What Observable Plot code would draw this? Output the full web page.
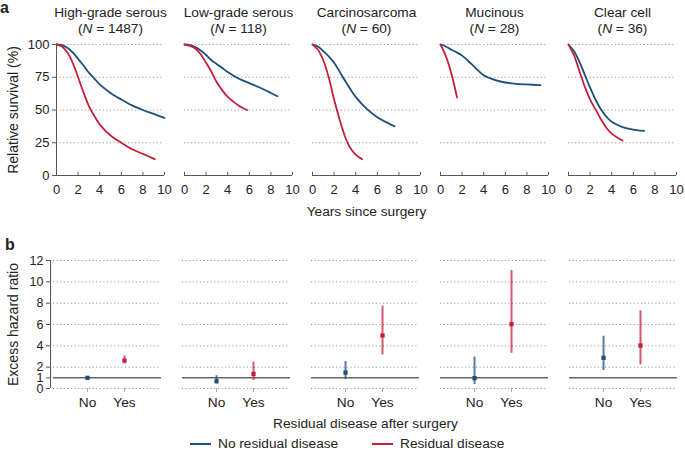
<!DOCTYPE html>
<html>
<head>
<meta charset="utf-8">
<script src="https://cdn.jsdelivr.net/npm/d3@7"></script>
<script src="https://cdn.jsdelivr.net/npm/@observablehq/plot@0.6"></script>
<style>
  html, body { margin: 0; padding: 0; background: white; }
  #wrap { position: relative; width: 685px; height: 451px; font-family: "Liberation Sans", Arial, sans-serif; color: #222; }
  .abs { position: absolute; }
  .panel-label { position: absolute; font-weight: bold; font-size: 16px; line-height: 16px; }
  .legend { position: absolute; top: 438px; left: 0; width: 685px; font-size: 13.7px; line-height: 12px; }
  .legend .item { position: absolute; top: 0; height: 12px; display: flex; align-items: center; white-space: nowrap; }
  .legend .sw { display: inline-block; width: 21px; height: 2px; margin-right: 7px; }
</style>
</head>
<body>
<div id="wrap">
  <div class="abs" id="top" style="left:0;top:0"></div>
  <div class="abs" id="bottom" style="left:0;top:225px"></div>
  <div class="panel-label" style="left:0;top:0px">a</div>
  <div class="panel-label" style="left:5px;top:237px">b</div>
  <div class="legend" id="legend"></div>
</div>
<script>
// ---------- data ----------
const categories = ["High-grade serous", "Low-grade serous", "Carcinosarcoma", "Mucinous", "Clear cell"];
const counts = [1487, 118, 60, 28, 36];
const groups = ["No residual disease", "Residual disease"];
const residLabels = ["No", "Yes"];
const colors = ["#1d4f7c", "#c41f3c"];

// survival curves: [years, relative survival %]
const hgsNo  = [[0,100],[0.5,99.5],[1,97.5],[1.5,94],[2,89],[2.5,84],[3,78.5],[3.5,74],[4,69.5],[5,63],[6,58],[7,53.5],[8,50],[9,47],[10,44]];
const hgsYes = [[0,100],[0.5,98.5],[1,94],[1.5,86],[2,75],[2.5,63.5],[3,53],[3.5,45.5],[4,39],[5,30.5],[6,25],[7,20],[8,16.5],[9.1,12.5]];
const lgsNo  = [[0,100],[0.5,99.5],[1,98],[1.5,95.5],[2,92],[2.5,88],[3,85],[3.5,82],[4,79],[5,74],[6,70.5],[7,67],[8,63],[8.6,60.5]];
const lgsYes = [[0,100],[0.5,99],[1,97],[1.5,92.5],[2,86],[2.5,79],[3,71],[3.5,65],[4,60],[4.5,56.5],[5,53.5],[5.8,50]];
const csNo   = [[0,100],[0.5,98.5],[1,95],[1.5,91],[2,86],[2.5,79.5],[3,72.5],[3.5,66],[4,60],[5,51],[6,44.5],[7,40],[7.6,37.6]];
const csYes  = [[0,100],[0.5,96],[1,88],[1.5,75],[2,58],[2.5,43],[3,30],[3.5,21],[4,16],[4.6,12.4]];
const mucNo  = [[0,100],[0.5,98.5],[1,96],[1.5,94],[2,91.5],[2.5,88],[3,84],[3.5,80],[4,76.5],[5,73],[6,71],[7,70],[8,69.5],[9.25,69]];
const mucYes = [[0,100],[0.5,91],[1,78],[1.53,59.5]];
const ccNo   = [[0,100],[0.5,95],[1,87],[1.5,77],[2,67],[2.5,58],[3,50.5],[3.5,45],[4,41],[5,37],[6,35],[7,34]];
const ccYes  = [[0,100],[0.5,92],[1,80],[1.5,68],[2,58],[2.5,50.5],[3,43],[3.5,36.5],[4,32],[4.5,29],[5,26.7]];
const curvesNo  = [hgsNo, lgsNo, csNo, mucNo, ccNo];
const curvesYes = [hgsYes, lgsYes, csYes, mucYes, ccYes];

// excess hazard ratios with 95% CI (null = reference)
const ehrNo     = [1, 0.68, 1.5, 0.97, 2.88];
const ehrNoLo   = [null, 0.44, 0.84, 0.37, 1.69];
const ehrNoHi   = [null, 1.2, 2.53, 2.94, 4.9];
const ehrYes    = [2.62, 1.37, 4.97, 6.03, 4.03];
const ehrYesLo  = [2.3, 0.75, 3.16, 3.31, 2.22];
const ehrYesHi  = [3.05, 2.47, 7.72, 11.06, 7.28];

const yearTicks = [0, 2, 4, 6, 8, 10];
const survTicks = [0, 25, 50, 75, 100];
const survGrid = [25, 50, 75, 100];
const ehrTicks = [0, 1, 2, 4, 6, 8, 10, 12];
const ehrGrid = [0, 2, 4, 6, 8, 10, 12];

// ---------- tables ----------
const survRows = [];
categories.forEach((c, i) => {
  curvesNo[i].forEach(([t, s]) => survRows.push({type: c, group: groups[0], t, s}));
  curvesYes[i].forEach(([t, s]) => survRows.push({type: c, group: groups[1], t, s}));
});
const tickRows = categories.flatMap(c => yearTicks.map(t => ({type: c, t})));
const ehrRows = [];
categories.forEach((c, i) => {
  ehrRows.push({type: c, group: groups[0], pos: 1, est: ehrNo[i], lo: ehrNoLo[i], hi: ehrNoHi[i]});
  ehrRows.push({type: c, group: groups[1], pos: 2, est: ehrYes[i], lo: ehrYesLo[i], hi: ehrYesHi[i]});
});
const ciRows = ehrRows.filter(d => d.lo != null);

const font = "'Liberation Sans', Arial, sans-serif";
const axisColor = "#555";
const gridOpts = {stroke: "#8a8a8a", strokeOpacity: 1, strokeDasharray: "1,2.6", strokeWidth: 1};

// ---------- panel a ----------
const topChart = Plot.plot({
  width: 685, height: 225,
  marginLeft: 55, marginRight: 7, marginTop: 44, marginBottom: 50,
  style: {fontFamily: font, fontSize: "13px", color: "#222", background: "white", overflow: "visible"},
  fx: {domain: categories, padding: 0.156, axis: null, label: null},
  x: {domain: [0, 10], label: null},
  y: {domain: [0, 100], label: null},
  color: {domain: groups, range: colors},
  marks: [
    Plot.gridY(survGrid, gridOpts),
    Plot.ruleY([0], {stroke: axisColor}),
    Plot.ruleX(tickRows, {fx: "type", x: "t", y1: 0, y2: 2.4, stroke: axisColor}),
    Plot.ruleX([categories[0]], {fx: d => d, x: () => 0, y1: () => 0, y2: () => 100, stroke: axisColor}),
    Plot.axisY({ticks: survTicks, tickSize: 4, tickPadding: 3, stroke: axisColor, fontSize: 13, label: null}),
    Plot.axisX({ticks: yearTicks, tickSize: 0, tickPadding: 9, fontSize: 13, label: null}),
    Plot.line(survRows, {fx: "type", x: "t", y: "s", z: "group", stroke: "group", strokeWidth: 1.8, curve: "catmull-rom"}),
    Plot.text(categories, {fx: d => d, text: d => d, frameAnchor: "top", lineAnchor: "middle", dy: -32, fontSize: 13.7}),
    Plot.text(categories, {fx: d => d, text: (d, i) => `(N = ${counts[i]})`, frameAnchor: "top", lineAnchor: "middle", dy: -16, fontSize: 13.7}),
    Plot.text([categories[0]], {fx: d => d, text: () => "Relative survival (%)", frameAnchor: "left", textAnchor: "middle", rotate: -90, dx: -43, fontSize: 14}),
    Plot.text([categories[2]], {fx: d => d, text: () => "Years since surgery", frameAnchor: "bottom", lineAnchor: "middle", dy: 36, fontSize: 13.7})
  ]
});

// ---------- panel b ----------
const bottomChart = Plot.plot({
  width: 685, height: 205,
  marginLeft: 52, marginRight: 7, marginTop: 35, marginBottom: 42,
  style: {fontFamily: font, fontSize: "13px", color: "#222", background: "white", overflow: "visible"},
  fx: {domain: categories, padding: 0.166, axis: null, label: null},
  x: {domain: [0.08, 3.0], label: null},
  y: {domain: [0, 12], label: null},
  color: {domain: groups, range: colors},
  marks: [
    Plot.gridY(ehrGrid, gridOpts),
    Plot.ruleY([1], {stroke: "#666", strokeWidth: 1.5}),
    Plot.ruleX([categories[0]], {fx: d => d, x: () => 0, y1: () => 0, y2: () => 12, stroke: axisColor}),
    Plot.axisY({ticks: ehrTicks, tickSize: 4, tickPadding: 3, dx: -3, stroke: axisColor, fontSize: 12.5, label: null}),
    Plot.axisX({ticks: [1, 2], tickFormat: d => residLabels[d - 1], tickSize: 4, tickPadding: 5, stroke: "#aaa", fontSize: 13.7, label: null}),
    Plot.ruleX(ciRows, {fx: "type", x: "pos", y1: "lo", y2: "hi", stroke: "group", strokeWidth: 2, strokeOpacity: 0.75}),
    Plot.dot(ehrRows, {fx: "type", x: "pos", y: "est", fill: "group", symbol: "square", r: 2.4}),
    Plot.text([categories[0]], {fx: d => d, text: () => "Excess hazard ratio", frameAnchor: "left", textAnchor: "middle", rotate: -90, dx: -40, fontSize: 14}),
    Plot.text([categories[2]], {fx: d => d, text: () => "Residual disease after surgery", frameAnchor: "bottom", lineAnchor: "middle", dy: 35, fontSize: 13.7})
  ]
});

function italicN(svg) {
  d3.select(svg).selectAll("text").each(function() {
    const t = this.textContent;
    const m = /^\(N = (\d+)\)$/.exec(t);
    if (m) {
      const sel = d3.select(this);
      sel.text(null);
      sel.append("tspan").text("(");
      sel.append("tspan").attr("font-style", "italic").text("N");
      sel.append("tspan").text(` = ${m[1]})`);
    }
  });
}
italicN(topChart);

document.getElementById("top").appendChild(topChart);
document.getElementById("bottom").appendChild(bottomChart);

// legend
const legend = document.getElementById("legend");
const legendX = [190, 372];
groups.forEach((g, i) => {
  const item = document.createElement("div");
  item.className = "item";
  item.style.left = legendX[i] + "px";
  const sw = document.createElement("span");
  sw.className = "sw";
  sw.style.background = colors[i];
  const lab = document.createElement("span");
  lab.textContent = g;
  item.appendChild(sw);
  item.appendChild(lab);
  legend.appendChild(item);
});
</script>
</body>
</html>
